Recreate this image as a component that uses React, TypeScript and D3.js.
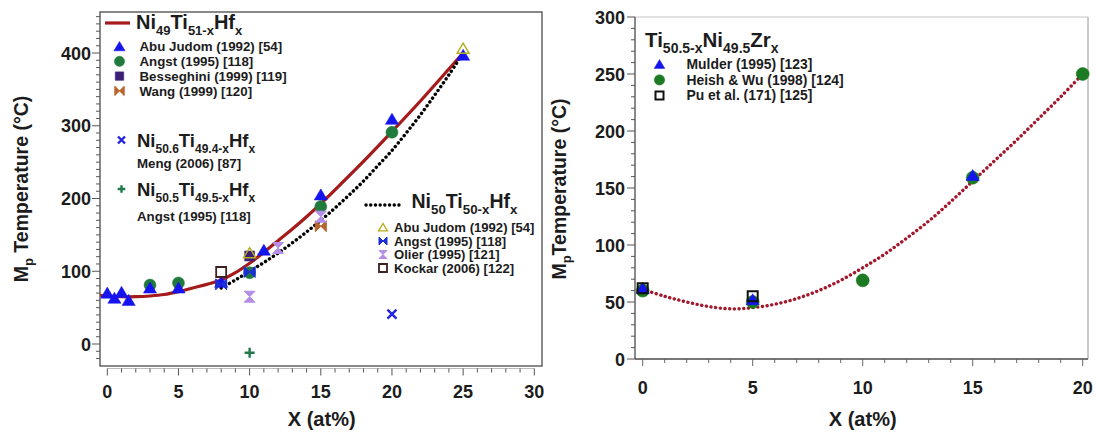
import React from "react";
import * as d3 from "d3";

// ---------- Left panel: Ni-Ti-Hf alloys ----------
// Ni49Ti51-xHfx
const abuJudom49X = [0, 0.5, 1, 1.5, 3, 5, 8, 11, 15, 20, 25];
const abuJudom49Y = [70, 63, 71, 60, 77, 77, 85, 129, 205, 309, 397];
const angst49X = [3, 5, 10, 15, 20];
const angst49Y = [81, 84, 98, 189, 291];
const besseghiniX = [10];
const besseghiniY = [121];
const wangX = [15];
const wangY = [162];
// Ni50.6Ti49.4-xHfx
const mengX = [20];
const mengY = [41];
// Ni50.5Ti49.5-xHfx
const angst505X = [10];
const angst505Y = [-12];
// Ni50Ti50-xHfx
const abuJudom50X = [10, 25];
const abuJudom50Y = [125, 406];
const angst50X = [8, 10];
const angst50Y = [82, 99];
const olierX = [10, 12, 15];
const olierY = [65, 132, 175];
const kockarX = [8];
const kockarY = [99];

// Trend curves
const trend49X = [-0.5, 0, 1, 2, 3, 4, 5, 6, 7, 8, 9, 10, 11, 12, 13, 14, 15, 16, 18, 20, 22, 24, 25];
const trend49Y = [67, 66, 65, 65, 66, 68, 72, 77, 82, 88, 98, 111, 126, 142, 158, 175, 193, 212, 251, 292, 334, 378, 400];
const trend50X = [8, 9, 10, 11, 12, 13, 14, 15, 16, 17, 18, 19, 20, 21, 22, 23, 24, 25];
const trend50Y = [77, 88, 100, 112, 125, 139, 154, 170, 187, 205, 224, 245, 266, 290, 315, 342, 370, 400];

const leftXTicks = [0, 5, 10, 15, 20, 25, 30];
const leftYTicks = [0, 100, 200, 300, 400];

// ---------- Right panel: Ti-Ni-Zr alloys ----------
const mulderX = [0, 5, 15];
const mulderY = [62, 52, 161];
const heishX = [0, 5, 10, 15, 20];
const heishY = [60, 50, 69, 159, 250];
const puX = [0, 5];
const puY = [62, 55];
const trendZrX = [0, 1, 2, 3, 4, 5, 6, 7, 8, 9, 10, 11, 12, 13, 14, 15, 16, 17, 18, 19, 20];
const trendZrY = [61, 55, 50, 46, 44, 45, 48, 53, 60, 69, 80, 92, 106, 121, 138, 156, 174, 192, 211, 230, 250];

const rightXTicks = [0, 5, 10, 15, 20];
const rightYTicks = [0, 50, 100, 150, 200, 250, 300];

const FONT = "'Liberation Sans', Arial, sans-serif";
const TXT = "#1c1c1c";

const C = {
  red: "#a51a1a",
  blue: "#1414ee",
  green: "#207a3c",
  purple: "#3c2078",
  wang: "#b8652c",
  meng: "#2323e0",
  plus: "#1f7a4c",
  olive: "#b5ad1e",
  angst50: "#1c2ed6",
  olier: "#b48ee6",
  kockar: "#3e2020",
  zrRed: "#a2182c",
  zrGreen: "#1b7a22",
};

function shapePath(kind: string, s: number): string {
  switch (kind) {
    case "triangle":
      return `M0,${-s}L${s * 1.1},${s * 0.85}L${-s * 1.1},${s * 0.85}Z`;
    case "square":
      return `M${-s},${-s}H${s}V${s}H${-s}Z`;
    case "bowtie":
      return `M${-s},${-s}L${s},${s}V${-s}L${-s},${s}Z`;
    case "hourglass":
      return `M${-s},${-s}H${s}L${-s},${s}H${s}Z`;
    case "x":
      return `M${-s},${-s}L${s},${s}M${s},${-s}L${-s},${s}`;
    case "plus":
      return `M${-s},0H${s}M0,${-s}V${s}`;
    default:
      return "";
  }
}

type Style = { kind: string; size: number; fill: string; stroke: string; sw: number };

function Marker({ cx, cy, st }: { cx: number; cy: number; st: Style }) {
  if (st.kind === "circle") {
    return <circle cx={cx} cy={cy} r={st.size} fill={st.fill} stroke={st.stroke} strokeWidth={st.sw} />;
  }
  return (
    <path
      d={shapePath(st.kind, st.size)}
      transform={`translate(${cx},${cy})`}
      fill={st.fill}
      stroke={st.stroke}
      strokeWidth={st.sw}
      strokeLinecap="butt"
    />
  );
}

const S = {
  abu49: { kind: "triangle", size: 6, fill: C.blue, stroke: C.blue, sw: 0.5 },
  angst49: { kind: "circle", size: 6, fill: C.green, stroke: C.green, sw: 0.5 },
  bess: { kind: "square", size: 5, fill: C.purple, stroke: C.purple, sw: 0.5 },
  wang: { kind: "bowtie", size: 5.5, fill: C.wang, stroke: C.wang, sw: 1 },
  meng: { kind: "x", size: 4.5, fill: "none", stroke: C.meng, sw: 2.4 },
  plus: { kind: "plus", size: 5, fill: "none", stroke: C.plus, sw: 2.4 },
  abu50: { kind: "triangle", size: 5.5, fill: "none", stroke: C.olive, sw: 1.4 },
  angst50: { kind: "bowtie", size: 5.5, fill: C.angst50, stroke: C.angst50, sw: 1 },
  olier: { kind: "hourglass", size: 5.5, fill: C.olier, stroke: C.olier, sw: 1 },
  kockar: { kind: "square", size: 5, fill: "none", stroke: C.kockar, sw: 1.8 },
  mulder: { kind: "triangle", size: 6, fill: C.blue, stroke: C.blue, sw: 0.5 },
  heish: { kind: "circle", size: 6.5, fill: C.zrGreen, stroke: C.zrGreen, sw: 0.5 },
  pu: { kind: "square", size: 5, fill: "none", stroke: "#111", sw: 2 },
} as Record<string, Style>;

// Chemical formula with subscripts
function Formula({ x, y, parts, size, sub }: { x: number; y: number; parts: [string, boolean][]; size: number; sub: number }) {
  const shift = size * 0.3;
  let cur = 0;
  return (
    <text x={x} y={y} fontFamily={FONT} fontWeight="bold" fontSize={size} fill={TXT}>
      {parts.map(([t, isSub], i) => {
        const dy = isSub ? shift - cur : -cur;
        cur = isSub ? shift : 0;
        return (
          <tspan key={i} dy={dy} fontSize={isSub ? sub : size}>
            {t}
          </tspan>
        );
      })}
    </text>
  );
}

function Label({ x, y, text, size = 12.5, anchor = "start" }: { x: number; y: number; text: string; size?: number; anchor?: string }) {
  return (
    <text x={x} y={y} fontFamily={FONT} fontWeight="bold" fontSize={size} fill={TXT} textAnchor={anchor}>
      {text}
    </text>
  );
}

export default function App() {
  // scales
  const xL = d3.scaleLinear().domain([0, 30]).range([107.3, 534.3]);
  const yL = d3.scaleLinear().domain([0, 400]).range([344, 53]);
  const xR = d3.scaleLinear().domain([0, 20]).range([642.7, 1082.7]);
  const yR = d3.scaleLinear().domain([0, 300]).range([359, 17]);

  const L = { x0: 100, x1: 542, y0: 12, y1: 366 };
  const R = { x0: 635, x1: 1088, y0: 17, y1: 359 };

  const line49 = d3
    .line<number>()
    .x((_, i) => xL(trend49X[i]))
    .y((v) => yL(v))
    .curve(d3.curveCatmullRom.alpha(0.5));
  const line50 = d3
    .line<number>()
    .x((_, i) => xL(trend50X[i]))
    .y((v) => yL(v))
    .curve(d3.curveCatmullRom.alpha(0.5));
  const lineZr = d3
    .line<number>()
    .x((_, i) => xR(trendZrX[i]))
    .y((v) => yR(v))
    .curve(d3.curveCatmullRom.alpha(0.5));

  const pts = (xs: number[], ys: number[], st: Style, sx: any, sy: any, key: string) =>
    xs.map((x, i) => <Marker key={key + i} cx={sx(x)} cy={sy(ys[i])} st={st} />);

  // ticks
  const leftYMinor = d3.range(-20, 451, 10);
  const leftXMinor = d3.range(0, 31, 1);
  const rightYMinor = d3.range(0, 301, 10);
  const rightXMinor = d3.range(0, 21, 1);
  const axisY = 368.5;

  return (
    <svg
      width={1096}
      height={434}
      style={{ position: "absolute", left: 0, top: 0, background: "#fff" }}
    >
      <rect x={0} y={0} width={1096} height={434} fill="#fff" />

      {/* ===== LEFT PANEL ===== */}
      <rect x={L.x0} y={L.y0} width={L.x1 - L.x0} height={L.y1 - L.y0} fill="none" stroke="#4a4a4a" strokeWidth={1.3} />
      {leftYMinor.map((v) => (
        <line key={"lym" + v} x1={L.x0 - (v % 100 === 0 ? 8 : 4)} x2={L.x0} y1={yL(v)} y2={yL(v)} stroke="#555" strokeWidth={1} />
      ))}
      {leftYTicks.map((v) => (
        <Label key={"lyt" + v} x={91} y={yL(v) + 6.5} text={String(v)} size={18} anchor="end" />
      ))}
      <line x1={xL(0)} x2={xL(30)} y1={axisY} y2={axisY} stroke="#bbb" strokeWidth={1} />
      {leftXMinor.map((v) => (
        <line key={"lxm" + v} x1={xL(v)} x2={xL(v)} y1={axisY} y2={axisY + (v % 5 === 0 ? 7 : 4)} stroke="#555" strokeWidth={1} />
      ))}
      {leftXTicks.map((v) => (
        <Label key={"lxt" + v} x={xL(v)} y={398} text={String(v)} size={18} anchor="middle" />
      ))}
      <Label x={321.7} y={426} text="X (at%)" size={20} anchor="middle" />
      <text transform="translate(28,189) rotate(-90)" fontFamily={FONT} fontWeight="bold" fontSize={19.5} fill={TXT} textAnchor="middle">
        <tspan>M</tspan>
        <tspan dy={5} fontSize={13}>p</tspan>
        <tspan dy={-5}> Temperature (°C)</tspan>
      </text>

      {/* trend curves */}
      <path d={line49(trend49Y) || ""} fill="none" stroke={C.red} strokeWidth={3.2} />
      <path d={line50(trend50Y) || ""} fill="none" stroke="#000" strokeWidth={3.4} strokeDasharray="0.1 4.6" strokeLinecap="round" />

      {/* data markers */}
      {pts(angst49X, angst49Y, S.angst49, xL, yL, "a49")}
      {pts(abuJudom49X, abuJudom49Y, S.abu49, xL, yL, "j49")}
      {pts(besseghiniX, besseghiniY, S.bess, xL, yL, "be")}
      {pts(wangX, wangY, S.wang, xL, yL, "wa")}
      {pts(mengX, mengY, S.meng, xL, yL, "me")}
      {pts(angst505X, angst505Y, S.plus, xL, yL, "a505")}
      {pts(angst50X, angst50Y, S.angst50, xL, yL, "a50")}
      {pts(abuJudom50X, abuJudom50Y, S.abu50, xL, yL, "j50")}
      {pts(olierX, olierY, S.olier, xL, yL, "ol")}
      {pts(kockarX, kockarY, S.kockar, xL, yL, "ko")}

      {/* legend: Ni49Ti51-xHfx */}
      <line x1={105} x2={130} y1={23} y2={23} stroke={C.red} strokeWidth={3.2} />
      <Formula x={136} y={29} size={20} sub={13} parts={[["Ni", false], ["49", true], ["Ti", false], ["51-x", true], ["Hf", false], ["x", true]]} />
      {[
        [S.abu49, "Abu Judom (1992) [54]"],
        [S.angst49, "Angst (1995) [118]"],
        [S.bess, "Besseghini (1999) [119]"],
        [S.wang, "Wang (1999) [120]"],
      ].map(([st, t], i) => (
        <g key={"lg1" + i}>
          <Marker cx={119.5} cy={46.5 + i * 14.8} st={{ ...(st as Style), size: (st as Style).size * 0.85 }} />
          <Label x={139.5} y={46.5 + i * 14.8 + 4.7} text={t as string} size={13.3} />
        </g>
      ))}

      {/* legend: Ni50.6Ti49.4-xHfx */}
      <Marker cx={121.5} cy={140} st={{ ...S.meng, size: 3.5 }} />
      <Formula x={137} y={147} size={18.5} sub={12} parts={[["Ni", false], ["50.6", true], ["Ti", false], ["49.4-x", true], ["Hf", false], ["x", true]]} />
      <Label x={137} y={167.5} text="Meng (2006) [87]" size={13.3} />

      {/* legend: Ni50.5Ti49.5-xHfx */}
      <Marker cx={121.5} cy={189} st={{ ...S.plus, size: 3.8 }} />
      <Formula x={137} y={196} size={18.5} sub={12} parts={[["Ni", false], ["50.5", true], ["Ti", false], ["49.5-x", true], ["Hf", false], ["x", true]]} />
      <Label x={137} y={220.5} text="Angst (1995) [118]" size={13.3} />

      {/* legend: Ni50Ti50-xHfx */}
      <line x1={366} x2={402} y1={205} y2={205} stroke="#000" strokeWidth={3.4} strokeDasharray="0.1 4.6" strokeLinecap="round" />
      <Formula x={411.5} y={208} size={19.5} sub={13.3} parts={[["Ni", false], ["50", true], ["Ti", false], ["50-x", true], ["Hf", false], ["x", true]]} />
      {[
        [S.abu50, "Abu Judom (1992) [54]"],
        [S.angst50, "Angst (1995) [118]"],
        [S.olier, "Olier (1995) [121]"],
        [S.kockar, "Kockar (2006) [122]"],
      ].map(([st, t], i) => (
        <g key={"lg2" + i}>
          <Marker cx={383} cy={227.5 + i * 13.5} st={{ ...(st as Style), size: 4 }} />
          <Label x={394} y={227.5 + i * 13.5 + 4.6} text={t as string} size={13.1} />
        </g>
      ))}

      {/* ===== RIGHT PANEL ===== */}
      <line x1={R.x0} x2={R.x1} y1={R.y0} y2={R.y0} stroke="#c4c4c4" strokeWidth={1} />
      <line x1={R.x1} x2={R.x1} y1={R.y0} y2={R.y1} stroke="#b8b8b8" strokeWidth={1.5} />
      <line x1={R.x0} x2={R.x0} y1={R.y0} y2={R.y1} stroke="#4a4a4a" strokeWidth={1.3} />
      <line x1={R.x0} x2={R.x1} y1={R.y1} y2={R.y1} stroke="#4a4a4a" strokeWidth={1.3} />
      {rightYMinor.map((v) => (
        <line key={"rym" + v} x1={R.x0 - (v % 50 === 0 ? 8 : 4)} x2={R.x0} y1={yR(v)} y2={yR(v)} stroke="#555" strokeWidth={1} />
      ))}
      {rightYTicks.map((v) => (
        <Label key={"ryt" + v} x={625} y={yR(v) + 6.5} text={String(v)} size={18} anchor="end" />
      ))}
      {rightXMinor.map((v) => (
        <line key={"rxm" + v} x1={xR(v)} x2={xR(v)} y1={R.y1} y2={R.y1 + (v % 5 === 0 ? 7 : 4)} stroke="#666" strokeWidth={1} />
      ))}
      {rightXTicks.map((v) => (
        <Label key={"rxt" + v} x={xR(v)} y={394} text={String(v)} size={18} anchor="middle" />
      ))}
      <Label x={862.7} y={426} text="X (at%)" size={20} anchor="middle" />
      <text transform="translate(566,189) rotate(-90)" fontFamily={FONT} fontWeight="bold" fontSize={19.5} fill={TXT} textAnchor="middle">
        <tspan>M</tspan>
        <tspan dy={5} fontSize={13}>p</tspan>
        <tspan dy={-5}>Temperature (°C)</tspan>
      </text>

      <path d={lineZr(trendZrY) || ""} fill="none" stroke={C.zrRed} strokeWidth={3.4} strokeDasharray="0.1 4.6" strokeLinecap="round" />
      {pts(heishX, heishY, S.heish, xR, yR, "hw")}
      {pts(mulderX, mulderY, S.mulder, xR, yR, "mu")}
      {pts(puX, puY, S.pu, xR, yR, "pu")}

      {/* legend: Ti50.5-xNi49.5Zrx */}
      <Formula x={645} y={46.7} size={20.5} sub={14} parts={[["Ti", false], ["50.5-x", true], ["Ni", false], ["49.5", true], ["Zr", false], ["x", true]]} />
      {[
        [S.mulder, "Mulder (1995) [123]"],
        [S.heish, "Heish & Wu (1998) [124]"],
        [S.pu, "Pu et al. (171) [125]"],
      ].map(([st, t], i) => (
        <g key={"lg3" + i}>
          <Marker cx={659.5} cy={64.3 + i * 15.6} st={{ ...(st as Style), size: (st as Style).size * 0.8 }} />
          <Label x={686.5} y={64.3 + i * 15.6 + 4.8} text={t as string} size={13.9} />
        </g>
      ))}
    </svg>
  );
}
